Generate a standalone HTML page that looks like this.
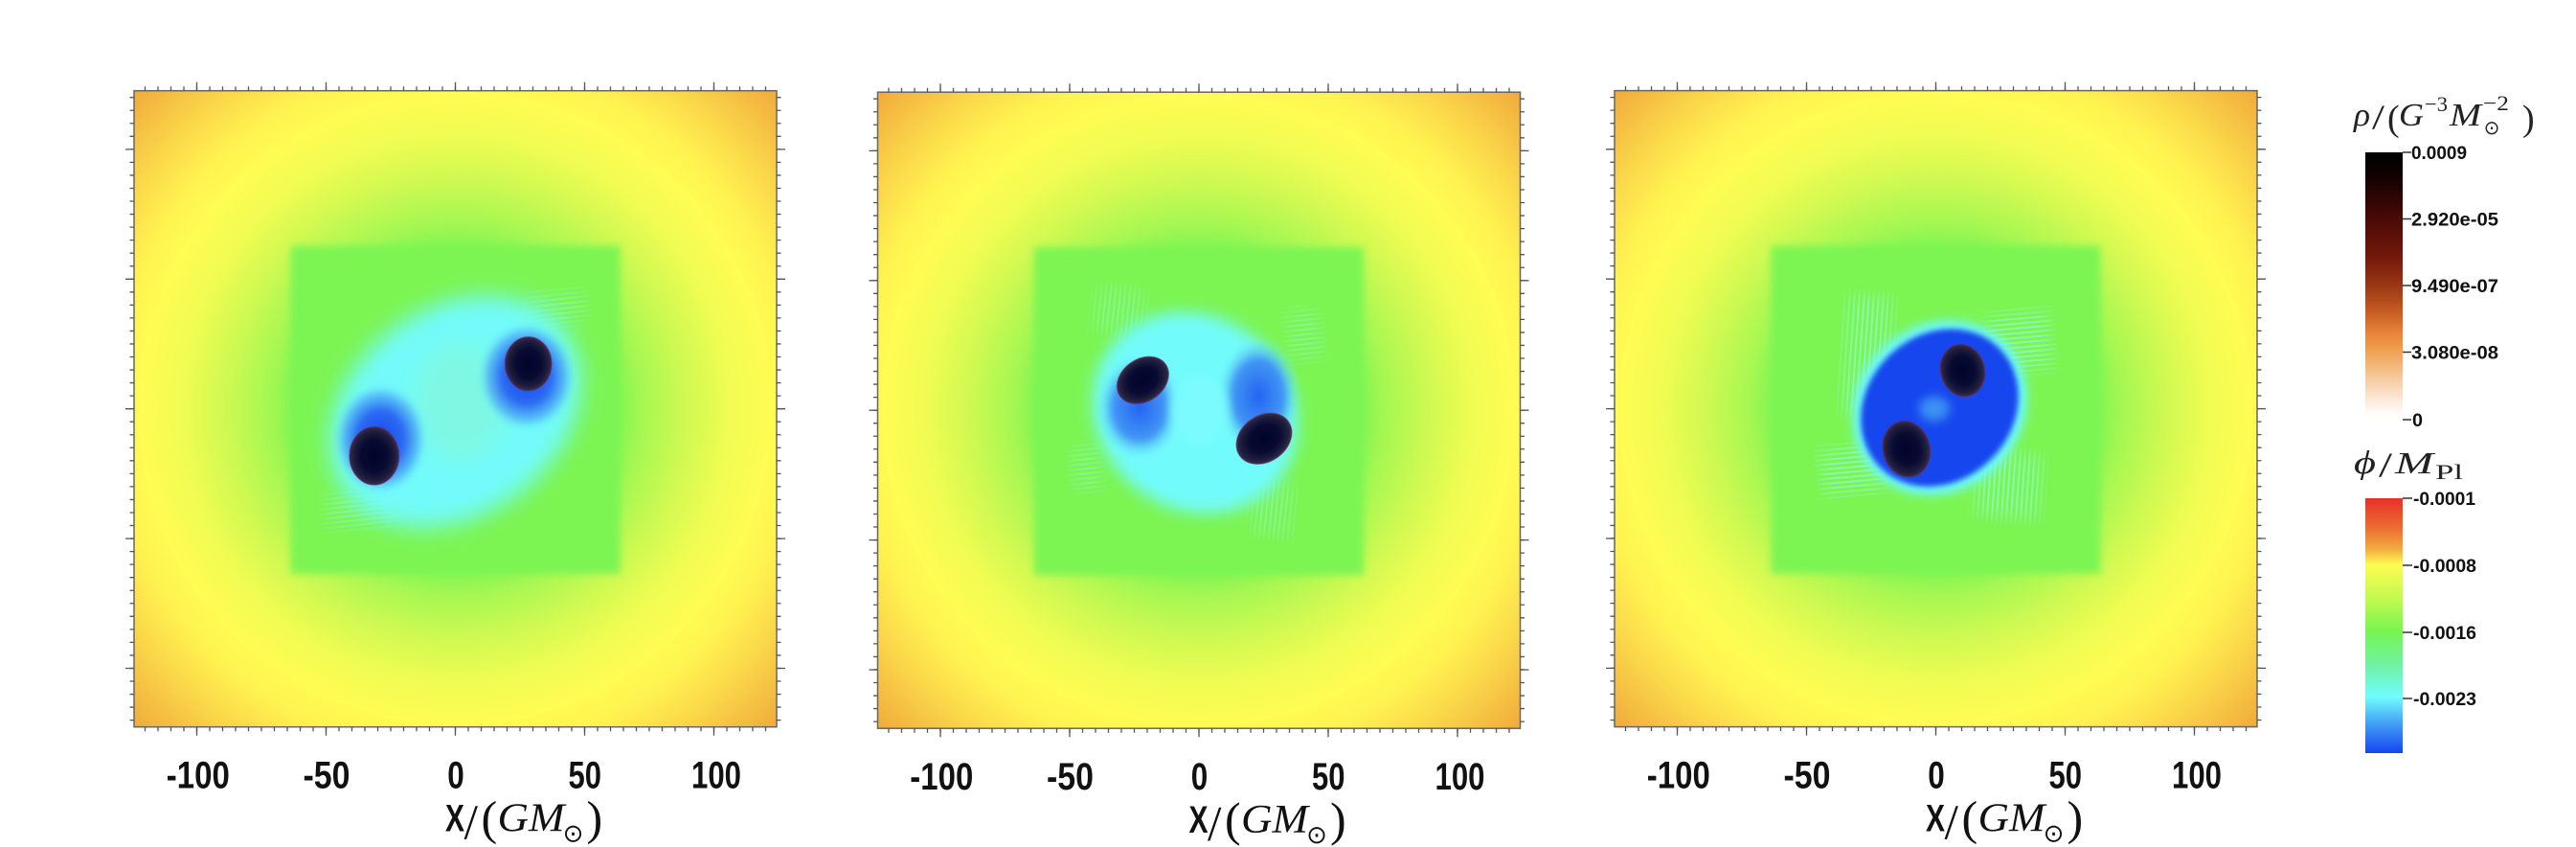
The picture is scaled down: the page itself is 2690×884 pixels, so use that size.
<!DOCTYPE html>
<html><head><meta charset="utf-8">
<style>html,body{margin:0;padding:0;background:#fff;}svg{display:block}</style>
</head>
<body>
<svg width="2690" height="884" viewBox="0 0 2690 884" xmlns="http://www.w3.org/2000/svg">
<defs>
<radialGradient id="bg" gradientUnits="userSpaceOnUse" cx="0" cy="0" r="475">
 <stop offset="0" stop-color="#7cf552"/>
 <stop offset="0.35" stop-color="#7df552"/>
 <stop offset="0.41" stop-color="#a6f752"/>
 <stop offset="0.5" stop-color="#cdf952"/>
 <stop offset="0.6" stop-color="#f0fc52"/>
 <stop offset="0.69" stop-color="#fffc52"/>
 <stop offset="0.76" stop-color="#fff250"/>
 <stop offset="0.85" stop-color="#fbd84a"/>
 <stop offset="0.93" stop-color="#f5bf42"/>
 <stop offset="1" stop-color="#f0a83a"/>
</radialGradient>
<radialGradient id="bh">
 <stop offset="0" stop-color="#00042a"/>
 <stop offset="0.55" stop-color="#080a32"/>
 <stop offset="0.85" stop-color="#1e1e3c"/>
 <stop offset="1" stop-color="#3a2c50"/>
</radialGradient>
<radialGradient id="halo1">
 <stop offset="0" stop-color="#1646f0" stop-opacity="1"/>
 <stop offset="0.5" stop-color="#2864f2" stop-opacity="0.95"/>
 <stop offset="0.78" stop-color="#46a0f6" stop-opacity="0.65"/>
 <stop offset="1" stop-color="#72fbfb" stop-opacity="0"/>
</radialGradient>
<radialGradient id="halo2">
 <stop offset="0" stop-color="#2462f2" stop-opacity="1"/>
 <stop offset="0.6" stop-color="#3c8af4" stop-opacity="0.9"/>
 <stop offset="1" stop-color="#72fbfb" stop-opacity="0"/>
</radialGradient>
<filter id="b3" x="-50%" y="-50%" width="200%" height="200%"><feGaussianBlur stdDeviation="3"/></filter>
<filter id="b4" x="-50%" y="-50%" width="200%" height="200%"><feGaussianBlur stdDeviation="4"/></filter>
<filter id="b5" x="-50%" y="-50%" width="200%" height="200%"><feGaussianBlur stdDeviation="5"/></filter>
<filter id="b8" x="-50%" y="-50%" width="200%" height="200%"><feGaussianBlur stdDeviation="8"/></filter>
<filter id="b12" x="-50%" y="-50%" width="200%" height="200%"><feGaussianBlur stdDeviation="12"/></filter>
<clipPath id="clip"><rect x="-335.5" y="-332" width="671" height="664"/></clipPath>
<pattern id="vs" width="5" height="10" patternUnits="userSpaceOnUse"><rect width="1.8" height="10" fill="#90fcf4"/></pattern>
<pattern id="hs" width="10" height="5" patternUnits="userSpaceOnUse"><rect width="10" height="1.8" fill="#90fcf4"/></pattern>
<mask id="m1" maskUnits="userSpaceOnUse" x="-400" y="-400" width="800" height="800">
 <g fill="#fff" filter="url(#b8)">
  <rect x="-135" y="86" width="74" height="38" transform="rotate(-6 -100 105)"/>
  <rect x="76" y="-122" width="60" height="34" transform="rotate(-6 105 -105)"/>
 </g>
</mask>
<mask id="m2" maskUnits="userSpaceOnUse" x="-400" y="-400" width="800" height="800">
 <g fill="#fff" filter="url(#b8)">
  <rect x="-109" y="-128" width="52" height="48" transform="rotate(6 -83 -104)"/>
  <rect x="56" y="74" width="43" height="57" transform="rotate(6 77 102)"/>
  <rect x="93" y="-105" width="34" height="52" transform="rotate(-6 110 -79)"/>
  <rect x="-132" y="37" width="29" height="48" transform="rotate(-6 -117 61)"/>
 </g>
</mask>
<mask id="m3" maskUnits="userSpaceOnUse" x="-400" y="-400" width="800" height="800">
 <g fill="#fff" filter="url(#b8)">
  <rect x="-96" y="-118" width="48" height="124" transform="rotate(4 -72 -56)"/>
  <rect x="56" y="-101" width="64" height="62" transform="rotate(-5 88 -70)"/>
  <rect x="-120" y="39" width="64" height="50" transform="rotate(-5 -88 64)"/>
  <rect x="42" y="46" width="68" height="68" transform="rotate(4 76 80)"/>
 </g>
</mask>
<linearGradient id="cb1" x1="0" y1="0" x2="0" y2="1">
 <stop offset="0" stop-color="#000000"/>
 <stop offset="0.08" stop-color="#0e0100"/>
 <stop offset="0.25" stop-color="#4a0a06"/>
 <stop offset="0.4" stop-color="#761a0c"/>
 <stop offset="0.5" stop-color="#9a3814"/>
 <stop offset="0.6" stop-color="#c85e24"/>
 <stop offset="0.68" stop-color="#e8863a"/>
 <stop offset="0.74" stop-color="#eea050"/>
 <stop offset="0.82" stop-color="#f3c08a"/>
 <stop offset="0.9" stop-color="#f9e0c8"/>
 <stop offset="0.97" stop-color="#fffaf6"/>
 <stop offset="1" stop-color="#ffffff"/>
</linearGradient>
<linearGradient id="cb2" x1="0" y1="0" x2="0" y2="1">
 <stop offset="0" stop-color="#e8302a"/>
 <stop offset="0.12" stop-color="#ec7030"/>
 <stop offset="0.2" stop-color="#f2ac40"/>
 <stop offset="0.26" stop-color="#fefc50"/>
 <stop offset="0.39" stop-color="#c4fa50"/>
 <stop offset="0.52" stop-color="#78f550"/>
 <stop offset="0.65" stop-color="#70f2a0"/>
 <stop offset="0.78" stop-color="#70fcff"/>
 <stop offset="0.9" stop-color="#3c92f4"/>
 <stop offset="1" stop-color="#1444f0"/>
</linearGradient>
<g id="frame">
 <rect x="-335.5" y="-332" width="671" height="664" fill="none" stroke="#666" stroke-width="1.5"/>
 <line x1="-324.65" y1="-334.25" x2="324.65" y2="-334.25" stroke="#555" stroke-width="4.5" stroke-dasharray="1.3 12.2"/>
 <line x1="-270.65" y1="-336.5" x2="270.65" y2="-336.5" stroke="#555" stroke-width="9" stroke-dasharray="1.3 133.7"/>
 <line x1="-324.65" y1="334.25" x2="324.65" y2="334.25" stroke="#555" stroke-width="4.5" stroke-dasharray="1.3 12.2"/>
 <line x1="-270.65" y1="336.5" x2="270.65" y2="336.5" stroke="#555" stroke-width="9" stroke-dasharray="1.3 133.7"/>
 <line x1="-337.75" y1="-325.65" x2="-337.75" y2="325.65" stroke="#555" stroke-width="4.5" stroke-dasharray="1.3 12.24"/>
 <line x1="-340" y1="-271.45" x2="-340" y2="271.45" stroke="#555" stroke-width="9" stroke-dasharray="1.3 134.1"/>
 <line x1="337.75" y1="-325.65" x2="337.75" y2="325.65" stroke="#555" stroke-width="4.5" stroke-dasharray="1.3 12.24"/>
 <line x1="340" y1="-271.45" x2="340" y2="271.45" stroke="#555" stroke-width="9" stroke-dasharray="1.3 134.1"/>
 <g font-family="Liberation Sans, Arial, sans-serif" font-weight="bold" font-size="40" fill="#111" text-anchor="middle">
  <text x="-268.7" y="396" textLength="66" lengthAdjust="spacingAndGlyphs">-100</text>
  <text x="-134.5" y="396" textLength="49" lengthAdjust="spacingAndGlyphs">-50</text>
  <text x="0.5" y="396" textLength="17.5" lengthAdjust="spacingAndGlyphs">0</text>
  <text x="135.3" y="396" textLength="34.5" lengthAdjust="spacingAndGlyphs">50</text>
  <text x="272.5" y="396" textLength="52" lengthAdjust="spacingAndGlyphs">100</text>
 </g>
 <g fill="#111">
  <text x="-10.5" y="441" font-family="Liberation Sans, Arial, sans-serif" font-weight="bold" font-size="40" textLength="20" lengthAdjust="spacingAndGlyphs">X</text>
  <text x="9" y="449" font-family="Liberation Serif, serif" font-size="52">/</text>
  <text x="27" y="444" font-family="Liberation Serif, serif" font-size="50">(</text>
  <text x="44" y="441" font-family="Liberation Serif, serif" font-style="italic" font-size="42" textLength="70" lengthAdjust="spacingAndGlyphs">GM</text>
  <text x="123" y="452" font-family="DejaVu Sans, sans-serif" font-size="26" text-anchor="middle">⊙</text>
  <text x="137" y="444" font-family="Liberation Serif, serif" font-size="50">)</text>
 </g>
</g>
</defs>

<!-- Panel 1 -->
<g transform="translate(475.5,426.7)">
 <g clip-path="url(#clip)">
  <rect x="-336" y="-333" width="672" height="666" fill="url(#bg)"/>
  <rect x="-172" y="-170" width="344" height="342" fill="#7cf552" filter="url(#b4)"/>
  <g mask="url(#m1)" opacity="0.45">
   <rect x="-142" y="80" width="88" height="50" fill="url(#hs)" transform="rotate(-6 -100 105)"/>
   <rect x="70" y="-128" width="72" height="46" fill="url(#hs)" transform="rotate(-6 105 -105)"/>
  </g>
  <ellipse cx="0" cy="0" rx="142" ry="108" transform="translate(0,3) rotate(-36)" fill="#72fbfb" filter="url(#b12)"/>
  <ellipse cx="5" cy="-8" rx="50" ry="62" fill="#8af6cc" opacity="0.5" filter="url(#b12)"/>
  <ellipse cx="74.5" cy="-33.7" rx="52" ry="58" fill="url(#halo1)" filter="url(#b3)"/>
  <ellipse cx="-78" cy="31.3" rx="50" ry="59" fill="url(#halo1)" filter="url(#b3)"/>
  <ellipse cx="76.2" cy="-47" rx="24.3" ry="28" fill="url(#bh)" stroke="#6a2a5a" stroke-width="1.2" stroke-opacity="0.7"/>
  <ellipse cx="-84.7" cy="49.1" rx="25.8" ry="30.2" fill="url(#bh)" stroke="#6a2a5a" stroke-width="1.2" stroke-opacity="0.7"/>
 </g>
 <use href="#frame"/>
</g>

<!-- Panel 2 -->
<g transform="translate(1252,428.2)">
 <g clip-path="url(#clip)">
  <rect x="-336" y="-333" width="672" height="666" fill="url(#bg)"/>
  <rect x="-172" y="-170" width="344" height="342" fill="#7cf552" filter="url(#b4)"/>
  <g mask="url(#m2)" opacity="0.45">
   <rect x="-115" y="-134" width="64" height="60" fill="url(#vs)" transform="rotate(6 -83 -104)"/>
   <rect x="50" y="68" width="55" height="69" fill="url(#vs)" transform="rotate(6 77 102)"/>
   <rect x="87" y="-111" width="46" height="64" fill="url(#hs)" transform="rotate(-6 110 -79)"/>
   <rect x="-138" y="31" width="41" height="60" fill="url(#hs)" transform="rotate(-6 -117 61)"/>
  </g>
  <ellipse cx="0" cy="0" rx="112" ry="100" transform="translate(-4,2.7) rotate(40)" fill="#72fbfb" filter="url(#b8)"/>
  <ellipse cx="-62" cy="-3" rx="46" ry="56" fill="url(#halo2)" filter="url(#b3)"/>
  <ellipse cx="62" cy="-15" rx="44" ry="62" fill="url(#halo2)" filter="url(#b3)"/>
  <ellipse cx="0" cy="0" rx="30" ry="36" fill="#7efcff" opacity="0.75" filter="url(#b5)"/>
  <ellipse cx="0" cy="0" rx="29" ry="22" transform="translate(-58.6,-31.4) rotate(-35)" fill="url(#bh)" stroke="#6a2a5a" stroke-width="1.2" stroke-opacity="0.6"/>
  <ellipse cx="0" cy="0" rx="31" ry="24" transform="translate(68,29.6) rotate(-35)" fill="url(#bh)" stroke="#6a2a5a" stroke-width="1.2" stroke-opacity="0.6"/>
 </g>
 <use href="#frame"/>
</g>

<!-- Panel 3 -->
<g transform="translate(2021.5,426.6)">
 <g clip-path="url(#clip)">
  <rect x="-336" y="-333" width="672" height="666" fill="url(#bg)"/>
  <rect x="-172" y="-170" width="344" height="342" fill="#7cf552" filter="url(#b4)"/>
  <g mask="url(#m3)" opacity="0.65">
   <rect x="-102" y="-124" width="60" height="136" fill="url(#vs)" transform="rotate(4 -72 -56)"/>
   <rect x="50" y="-107" width="76" height="74" fill="url(#hs)" transform="rotate(-5 88 -70)"/>
   <rect x="-126" y="33" width="76" height="62" fill="url(#hs)" transform="rotate(-5 -88 64)"/>
   <rect x="36" y="40" width="80" height="80" fill="url(#vs)" transform="rotate(4 76 80)"/>
  </g>
  <ellipse cx="0" cy="0" rx="96" ry="86" transform="translate(4,-1) rotate(-45)" fill="#6ef8ff" filter="url(#b5)"/>
  <ellipse cx="0" cy="0" rx="88" ry="76" transform="translate(4,-1) rotate(-45)" fill="#1846ee" filter="url(#b3)"/>
  <ellipse cx="-1.5" cy="0" rx="16" ry="13" fill="#4aa8f5" opacity="0.75" filter="url(#b5)"/>
  <ellipse cx="0" cy="0" rx="23" ry="27.5" transform="translate(28,-39.9) rotate(-15)" fill="url(#bh)" stroke="#6a2a5a" stroke-width="1.2" stroke-opacity="0.7"/>
  <ellipse cx="0" cy="0" rx="24.5" ry="29.5" transform="translate(-30.7,42.1) rotate(-15)" fill="url(#bh)" stroke="#6a2a5a" stroke-width="1.2" stroke-opacity="0.7"/>
 </g>
 <use href="#frame"/>
</g>

<!-- Colorbar 1 -->
<g fill="#222" font-family="Liberation Serif, serif">
 <text x="2458" y="131" font-style="italic" font-size="34" textLength="17" lengthAdjust="spacingAndGlyphs">ρ</text>
 <text x="2477" y="134" font-size="36" textLength="13" lengthAdjust="spacingAndGlyphs">/</text>
 <text x="2493" y="136" font-size="38">(</text>
 <text x="2505" y="131" font-style="italic" font-size="34" textLength="26" lengthAdjust="spacingAndGlyphs">G</text>
 <text x="2532" y="116" font-size="22" textLength="24" lengthAdjust="spacingAndGlyphs">−3</text>
 <text x="2558" y="131" font-style="italic" font-size="34" textLength="33" lengthAdjust="spacingAndGlyphs">M</text>
 <text x="2593" y="115" font-size="22" textLength="27" lengthAdjust="spacingAndGlyphs">−2</text>
 <text x="2634" y="136" font-size="38">)</text>
</g>
<text x="2602" y="140" font-family="DejaVu Sans, sans-serif" font-size="20" text-anchor="middle" fill="#222">⊙</text>
<rect x="2470" y="159" width="39" height="279" fill="url(#cb1)"/>
<g stroke="#333" stroke-width="1.5">
 <line x1="2509" y1="159" x2="2518" y2="159"/>
 <line x1="2509" y1="228.5" x2="2518" y2="228.5"/>
 <line x1="2509" y1="298" x2="2518" y2="298"/>
 <line x1="2509" y1="367.5" x2="2518" y2="367.5"/>
 <line x1="2509" y1="438" x2="2518" y2="438"/>
</g>
<g font-family="Liberation Sans, Arial, sans-serif" font-weight="bold" font-size="19" fill="#111">
 <text x="2518" y="166" textLength="58" lengthAdjust="spacingAndGlyphs">0.0009</text>
 <text x="2518" y="235.5" textLength="91" lengthAdjust="spacingAndGlyphs">2.920e-05</text>
 <text x="2518" y="305" textLength="91" lengthAdjust="spacingAndGlyphs">9.490e-07</text>
 <text x="2518" y="374.5" textLength="91" lengthAdjust="spacingAndGlyphs">3.080e-08</text>
 <text x="2519" y="445" textLength="11" lengthAdjust="spacingAndGlyphs">0</text>
</g>

<!-- Colorbar 2 -->
<g fill="#222" font-family="Liberation Serif, serif">
 <text x="2458" y="494" font-style="italic" font-size="34" textLength="23" lengthAdjust="spacingAndGlyphs">ϕ</text>
 <text x="2484" y="497" font-size="36" textLength="14" lengthAdjust="spacingAndGlyphs">/</text>
 <text x="2501" y="494" font-style="italic" font-size="32" textLength="40" lengthAdjust="spacingAndGlyphs">M</text>
 <text x="2543" y="500" font-size="22" textLength="29" lengthAdjust="spacingAndGlyphs">Pl</text>
</g>
<rect x="2470" y="520" width="39" height="266" fill="url(#cb2)"/>
<g stroke="#333" stroke-width="1.5">
 <line x1="2509" y1="520" x2="2519" y2="520"/>
 <line x1="2509" y1="590" x2="2519" y2="590"/>
 <line x1="2509" y1="660" x2="2519" y2="660"/>
 <line x1="2509" y1="729" x2="2519" y2="729"/>
</g>
<g font-family="Liberation Sans, Arial, sans-serif" font-weight="bold" font-size="19" fill="#111">
 <text x="2520" y="527" textLength="65" lengthAdjust="spacingAndGlyphs">-0.0001</text>
 <text x="2520" y="597" textLength="66" lengthAdjust="spacingAndGlyphs">-0.0008</text>
 <text x="2520" y="667" textLength="66" lengthAdjust="spacingAndGlyphs">-0.0016</text>
 <text x="2520" y="736" textLength="66" lengthAdjust="spacingAndGlyphs">-0.0023</text>
</g>
</svg>
</body>
</html>
